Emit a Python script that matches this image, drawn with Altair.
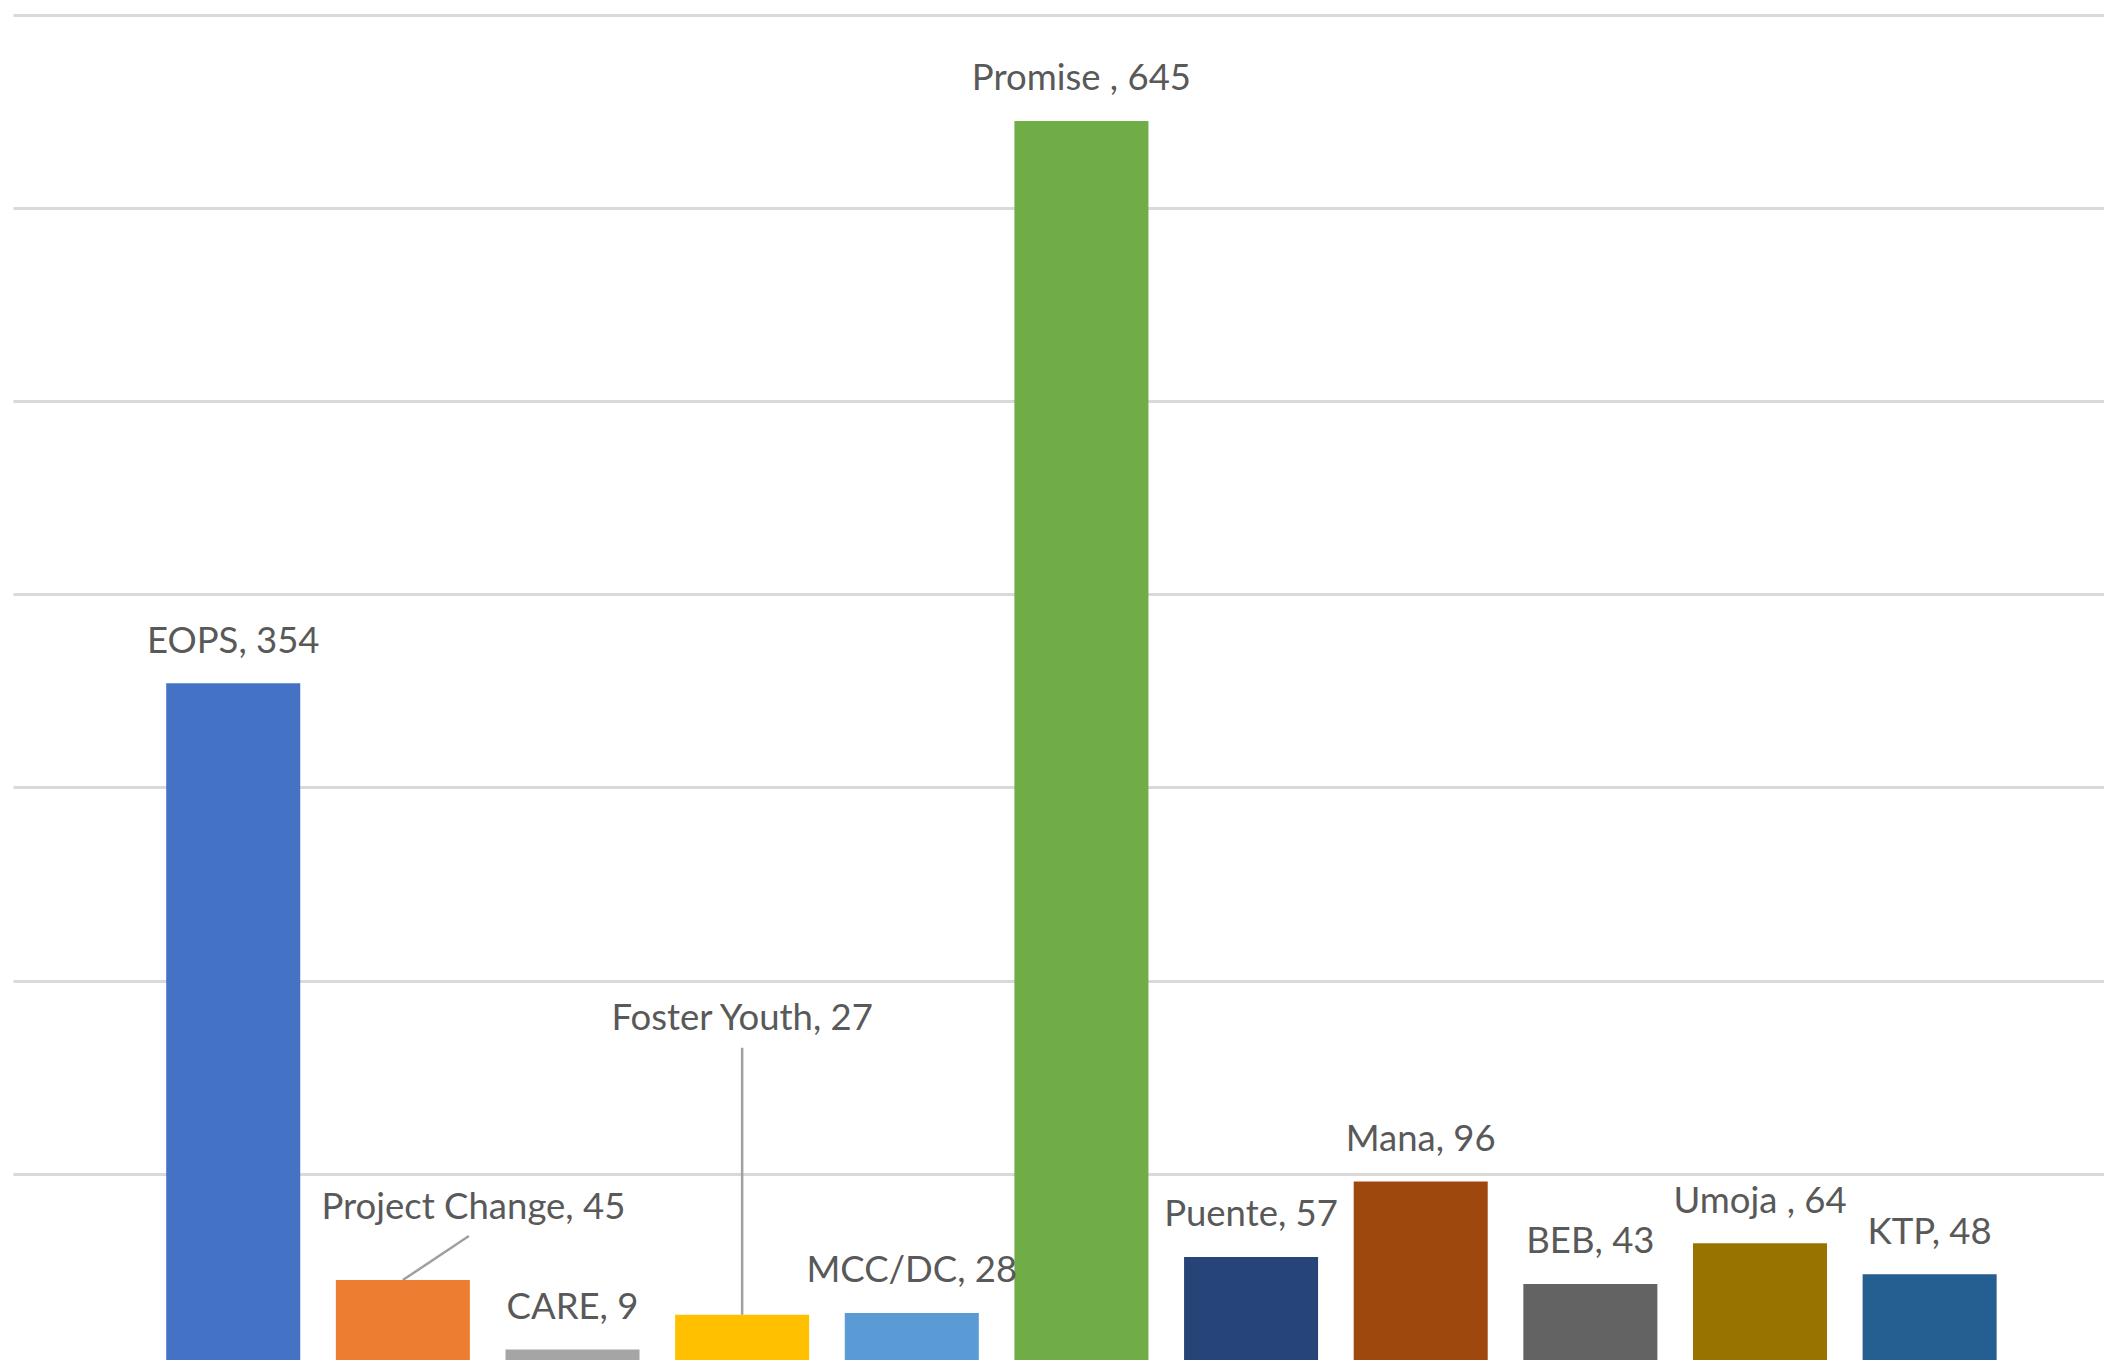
import altair as alt
import pandas as pd

categories = ["EOPS", "Project Change", "CARE", "Foster Youth", "MCC/DC", "Promise ",
              "Puente", "Mana", "BEB", "Umoja ", "KTP"]
values = [354, 45, 9, 27, 28, 645, 57, 96, 43, 64, 48]
colors = ["#4472C4", "#ED7D31", "#A5A5A5", "#FFC000", "#5B9BD5", "#70AD47",
          "#264478", "#9E480E", "#636363", "#997300", "#255E91"]
gridlines = [100, 200, 300, 400, 500, 600, 700]

df = pd.DataFrame({"program": categories, "count": values})
df["label"] = df["program"] + ", " + df["count"].astype(str)

x_enc = alt.X("program:N", sort=categories,
              scale=alt.Scale(paddingInner=0.21, paddingOuter=0.768, align=0.588),
              axis=None)
y_enc = alt.Y("count:Q",
              scale=alt.Scale(domain=[0, 703.5], nice=False, zero=True),
              axis=alt.Axis(values=gridlines, grid=True, gridColor="#D9D9D9", gridWidth=3,
                            labels=False, ticks=False, domain=False, title=None,
                            minExtent=0, maxExtent=0))

base = alt.Chart(df)

bars = base.mark_bar().encode(
    x=x_enc, y=y_enc,
    color=alt.Color("program:N", scale=alt.Scale(domain=categories, range=colors), legend=None),
)

text_style = dict(font="Lato", fontSize=36.5, color="#595959", baseline="alphabetic", align="center")

normal_labels = base.transform_filter(
    "datum.program != 'Project Change' && datum.program != 'Foster Youth'"
).mark_text(dy=-30.6, **text_style).encode(x=x_enc, y=y_enc, text="label:N")

pc_label = base.transform_filter("datum.program == 'Project Change'").mark_text(
    dx=70.5, dy=-60.7, **text_style).encode(x=x_enc, y=y_enc, text="label:N")

fy_label = base.transform_filter("datum.program == 'Foster Youth'").mark_text(
    dy=-285, **text_style).encode(x=x_enc, y=y_enc, text="label:N")

fy_line = base.transform_filter("datum.program == 'Foster Youth'").mark_rule(
    color="#A0A0A0", strokeWidth=2.5, y2Offset=-267).encode(
    x=x_enc, y=y_enc, y2=alt.Y2("count:Q"))

pc_line = base.transform_filter("datum.program == 'Project Change'").mark_rule(
    color="#A0A0A0", strokeWidth=2.5, x2Offset=66, y2Offset=-44).encode(
    x=x_enc, y=y_enc, x2=alt.X2("program"), y2=alt.Y2("count:Q"))

chart = alt.layer(bars, fy_line, pc_line, normal_labels, pc_label, fy_label).properties(
    width=2091, height=1359,
    padding={"left": 5, "top": 0, "right": 0, "bottom": 0},
    background="white",
).configure_view(strokeWidth=0)

chart.save("out.html", embed_options={"renderer": "svg", "actions": False})
